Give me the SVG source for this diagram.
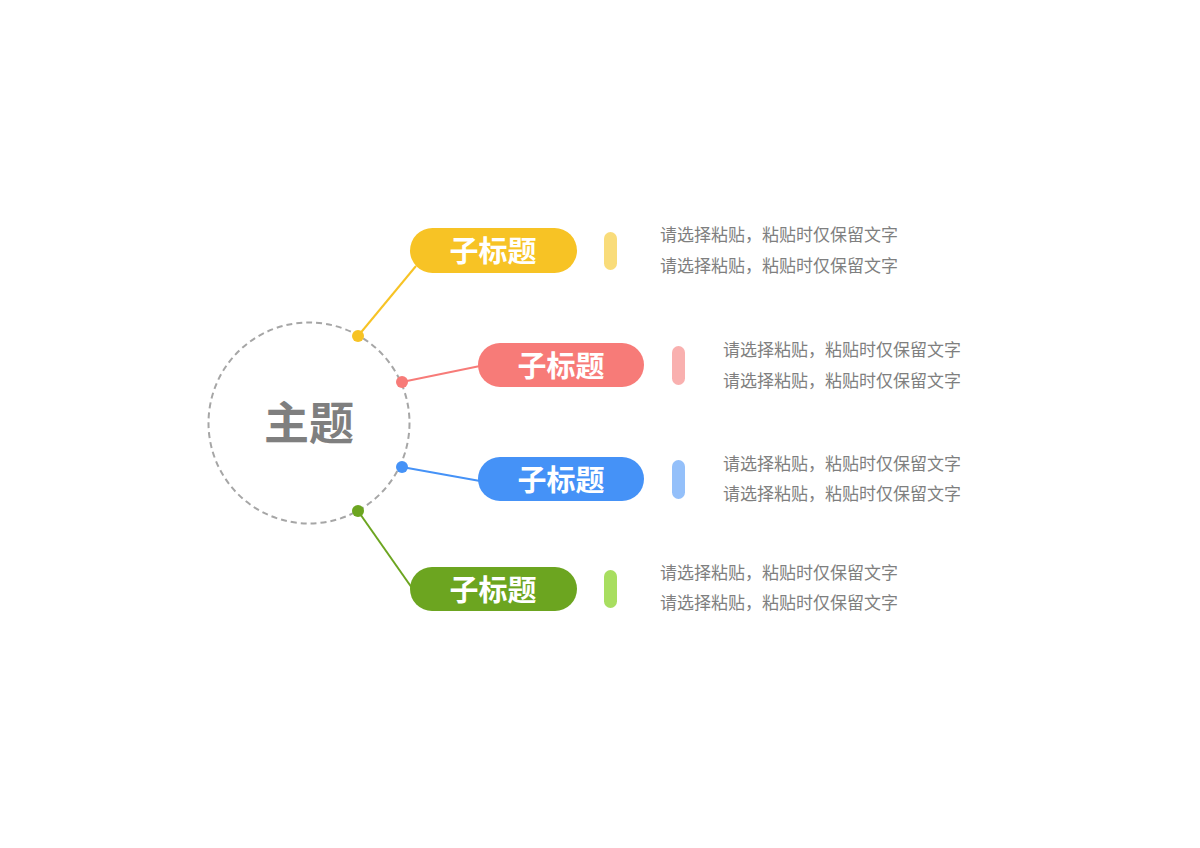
<svg xmlns="http://www.w3.org/2000/svg" width="1200" height="848" viewBox="0 0 1200 848">
<style>
.sub{font-family:"Noto Sans CJK SC","Noto Sans",sans-serif;font-weight:bold;font-size:29px;fill:#ffffff;text-anchor:middle;dominant-baseline:central}
.desc{font-family:"Noto Sans CJK SC","Noto Sans",sans-serif;font-size:17px;fill:#7f7f7f;dominant-baseline:central}
.main{font-family:"Noto Sans CJK SC","Noto Sans",sans-serif;font-weight:bold;font-size:45px;fill:#7f7f7f;text-anchor:middle;dominant-baseline:central}
</style>
<rect width="1200" height="848" fill="#ffffff"/>
<g id="connectors" stroke-width="2" fill="none">
<line x1="358" y1="336" x2="416" y2="266" stroke="#F7C325"/>
<line x1="402" y1="382" x2="480" y2="366" stroke="#F77B78"/>
<line x1="402" y1="467" x2="480" y2="481" stroke="#4592F7"/>
<line x1="358" y1="511" x2="412" y2="588" stroke="#6CA520"/>
</g>
<g id="main">
<circle cx="309" cy="423" r="100.5" fill="none" stroke="#A6A6A6" stroke-width="2" stroke-dasharray="6,4"/>
<text class="main" x="309" y="420">主题</text>
</g>
<g id="dots">
<circle cx="358" cy="336" r="6" fill="#F7C325"/>
<circle cx="402" cy="382" r="6" fill="#F77B78"/>
<circle cx="402" cy="467" r="6" fill="#4592F7"/>
<circle cx="358" cy="511" r="6" fill="#6CA520"/>
</g>
<g id="node1">
<rect x="410" y="228" width="167" height="45" rx="22.5" fill="#F7C325"/>
<text class="sub" x="493" y="249">子标题</text>
<rect x="604" y="232" width="13" height="38" rx="6.5" fill="#F9DC7A"/>
<text class="desc" x="660" y="233.5">请选择粘贴，粘贴时仅保留文字</text>
<text class="desc" x="660" y="264.5">请选择粘贴，粘贴时仅保留文字</text>
</g>
<g id="node2">
<rect x="478" y="343" width="166" height="44" rx="22" fill="#F77B78"/>
<text class="sub" x="561" y="364">子标题</text>
<rect x="672" y="346" width="13" height="39" rx="6.5" fill="#F9B0AF"/>
<text class="desc" x="723" y="348.5">请选择粘贴，粘贴时仅保留文字</text>
<text class="desc" x="723" y="379.5">请选择粘贴，粘贴时仅保留文字</text>
</g>
<g id="node3">
<rect x="478" y="457" width="166" height="44" rx="22" fill="#4592F7"/>
<text class="sub" x="561" y="478">子标题</text>
<rect x="672" y="460" width="13" height="39" rx="6.5" fill="#94C0FA"/>
<text class="desc" x="723" y="462.5">请选择粘贴，粘贴时仅保留文字</text>
<text class="desc" x="723" y="492.5">请选择粘贴，粘贴时仅保留文字</text>
</g>
<g id="node4">
<rect x="410" y="567" width="167" height="44" rx="22" fill="#6CA520"/>
<text class="sub" x="493" y="588">子标题</text>
<rect x="604" y="570" width="13" height="38" rx="6.5" fill="#A8DE60"/>
<text class="desc" x="660" y="571.5">请选择粘贴，粘贴时仅保留文字</text>
<text class="desc" x="660" y="601.5">请选择粘贴，粘贴时仅保留文字</text>
</g>
</svg>
